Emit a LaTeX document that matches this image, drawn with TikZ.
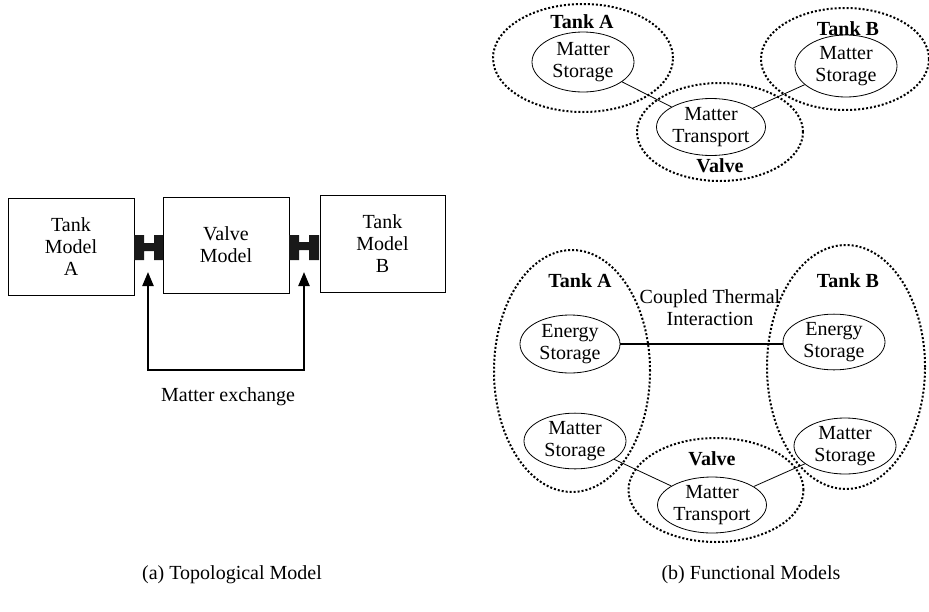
\documentclass[tikz,border=0pt]{standalone}
\usepackage{fontspec}
\setmainfont{Liberation Serif}
\usetikzlibrary{shapes.geometric,arrows.meta}
\begin{document}
\begin{tikzpicture}[x=1pt,y=-1pt,
  every node/.style={font=\fontsize{20}{22}\selectfont, align=center, inner sep=0pt},
  box/.style={draw, line width=0.8pt, rectangle},
  func/.style={draw, line width=0.8pt, ellipse, minimum width=102pt, minimum height=57pt},
  group/.style={draw, ellipse, line width=2pt, dash pattern=on 2pt off 2pt},
  bold/.style={font=\fontsize{20}{22}\selectfont\bfseries},
  link/.style={line width=0.8pt},
  hblock/.style={fill=black!90},
  mx/.style={line width=2.2pt, {Triangle[length=14pt,width=11pt]}-{Triangle[length=14pt,width=11pt]}}
]
\useasboundingbox (0,0) rectangle (929,611);

% ---- (a) Topological model
\node[box, minimum width=126pt, minimum height=97pt] (ta) at (71,246.5) {Tank\\Model\\A};
\node[box, minimum width=126pt, minimum height=96pt] (vm) at (226,245) {Valve\\Model};
\node[box, minimum width=125pt, minimum height=97pt] (tb) at (382.5,243.5) {Tank\\Model\\B};

\fill[hblock] (134,235) rectangle (144,260) (144,243) rectangle (154,251) (154,235) rectangle (163,260);
\fill[hblock] (289,235) rectangle (299,260) (299,242) rectangle (309,250) (309,235) rectangle (319,260);

\coordinate (c1) at (148,272);
\coordinate (c2) at (304,272);
\draw[mx] (c1) -- (148,370) -- (304,370) -- (c2);
\node (mex) at (228,397) {Matter exchange};

\node (capa) at (232,575) {(a) Topological Model};
\node (capb) at (751,575) {(b) Functional Models};

% ---- (b) top functional model
\node[group, minimum width=180pt, minimum height=108pt] (gA1) at (583,58) {};
\node[group, minimum width=168pt, minimum height=102pt] (gB1) at (845,59) {};
\node[group, minimum width=166pt, minimum height=98pt] (gV1) at (720,132) {};
\node[bold] (lA1) at (582,22) {Tank A};
\node[bold] (lB1) at (848,29) {Tank B};
\node[bold] (lV1) at (720,166) {Valve};
\node[func, minimum height=60pt] (msA1) at (583,62) {Matter\\Storage};
\node[func, minimum height=62pt] (msB1) at (846,66) {Matter\\Storage};
\node[func, minimum height=57pt] (mt1) at (711,127) {Matter\\Transport};
\draw[link] (msA1) -- (mt1);
\draw[link] (mt1) -- (msB1);

% ---- (b) bottom functional model
\node[group, minimum width=156pt, minimum height=242pt] (gA2) at (572,371) {};
\node[group, minimum width=158pt, minimum height=244pt] (gB2) at (846,367) {};
\node[group, minimum width=175pt, minimum height=104pt] (gV2) at (716,490) {};
\node[bold] (lA2) at (580,281) {Tank A};
\node[bold] (lB2) at (848,281) {Tank B};
\node[bold] (lV2) at (712,459) {Valve};
\node (cti) at (710,308) {Coupled Thermal\\Interaction};
\node[func, minimum width=100pt, minimum height=58pt] (esA2) at (570,344) {Energy\\Storage};
\node[func, minimum height=50pt] (esB2) at (834,342) {Energy\\Storage};
\node[func, minimum height=54pt] (msA2) at (575,441) {Matter\\Storage};
\node[func, minimum height=56pt] (msB2) at (845,446) {Matter\\Storage};
\node[func, minimum height=56pt] (mt2) at (712,505) {Matter\\Transport};
\draw[line width=2.5pt] (esA2.east) -- (esA2.east -| esB2.west);
\draw[link] (msA2) -- (mt2);
\draw[link] (mt2) -- (msB2);
\end{tikzpicture}
\end{document}
